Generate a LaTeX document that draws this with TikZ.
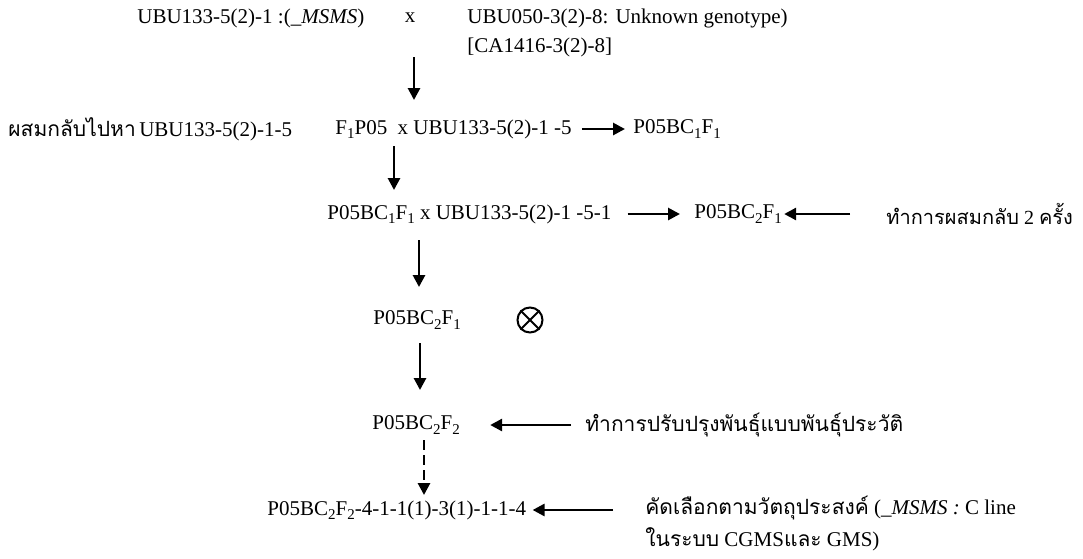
\documentclass[tikz,border=0pt]{standalone}
\usepackage{fontspec}
\setmainfont{Liberation Serif}
\newfontfamily\thaifont[Script=Thai]{Loma}
\usetikzlibrary{positioning,arrows.meta}
\newcommand{\lowsub}[1]{\raisebox{-0.45ex}{\fontsize{7.5}{8}\selectfont #1}}

\begin{document}
\begin{tikzpicture}[
  x=0.5pt, y=-0.5pt,
  txt/.style={anchor=west, inner sep=0pt, font=\fontsize{10.5}{12.6}\selectfont},
  thai/.style={txt, font=\fontsize{10.5}{16}\selectfont},
  arr/.style={line width=1.4pt, -{Triangle[length=6pt,width=6pt]}},
  darr/.style={arr, dash pattern=on 5pt off 2.5pt}
]
\useasboundingbox (0,0) rectangle (1083,558);

% Parents
\node[txt] (p1) at (137,18) {UBU133-5(2)-1 :(\_\textit{MSMS})};
\node[txt, anchor=center] (cross) at (410,18) {x};
\node[txt] (p2) at (467,18) {UBU050-3(2)-8: Unknown genotype)};
\node[txt] (p2b) at (467,47) {[CA1416-3(2)-8]};

% First backcross
\node[txt] (bc1l) at (8,129) {{\thaifont ผสมกลับไปหา}\,UBU133-5(2)-1-5};
\node[txt] (bc1) at (335,129) {F\lowsub{1}P05\ \ x UBU133-5(2)-1 -5};
\node[txt] (bc1r) at (633,129) {P05BC\lowsub{1}F\lowsub{1}};

% Second backcross
\node[txt] (bc2) at (327,214) {P05BC\lowsub{1}F\lowsub{1}\ x\ UBU133-5(2)-1 -5-1};
\node[txt] (bc2r) at (694,214) {P05BC\lowsub{2}F\lowsub{1}};
\node[thai, font=\fontsize{10}{14}\selectfont] (bc2t) at (886,214) {{\thaifont ทำการผสมกลับ} 2 {\thaifont ครั้ง}};

% Selfing
\node[txt] (self) at (373,320) {P05BC\lowsub{2}F\lowsub{1}};
\node[draw, circle, line width=1pt, minimum size=12.5pt, inner sep=0pt] (sym) at (530,320) {};
\draw[line width=1pt] (sym.north west) -- (sym.south east);
\draw[line width=1pt] (sym.north east) -- (sym.south west);

\node[txt] (f2) at (372,425) {P05BC\lowsub{2}F\lowsub{2}};
\node[thai] (f2t) at (585,425) {\thaifont ทำการปรับปรุงพันธุ์แบบพันธุ์ประวัติ};

% Selected line
\node[txt] (line) at (267,510) {P05BC\lowsub{2}F\lowsub{2}-4-1-1(1)-3(1)-1-1-4};
\node[thai, align=left] (linet) at (645,524)
  {{\thaifont คัดเลือกตามวัตถุประสงค์} (\_\textit{MSMS :} C line\\
   {\thaifont ในระบบ} CGMS{\thaifont และ} GMS)};

% Vertical arrows
\coordinate (a1s) at (414,57);  \coordinate (a1e) at (414,100);
\coordinate (a2s) at (394,146); \coordinate (a2e) at (394,190);
\coordinate (a3s) at (419,240); \coordinate (a3e) at (419,287);
\coordinate (a4s) at (420,343); \coordinate (a4e) at (420,390);
\coordinate (a5s) at (424,440); \coordinate (a5e) at (424,495);
\draw[arr] (a1s) -- (a1e);
\draw[arr] (a2s) -- (a2e);
\draw[arr] (a3s) -- (a3e);
\draw[arr] (a4s) -- (a4e);
\draw[darr] (a5s) -- (a5e);

% Horizontal arrows
\draw[arr, shorten <=5pt, shorten >=4pt] (bc1.east) -- (bc1r.west);
\draw[arr, shorten <=8pt, shorten >=7pt] (bc2.east) -- (bc2r.west);
\draw[arr, shorten <=18pt, shorten >=1pt] (bc2t.west) -- (bc2r.east);
\draw[arr, shorten <=7pt, shorten >=15pt] (f2t.west) -- (f2.east);
\draw[arr, shorten <=16pt, shorten >=3pt] (linet.west |- line.east) -- (line.east);

\end{tikzpicture}
\end{document}
